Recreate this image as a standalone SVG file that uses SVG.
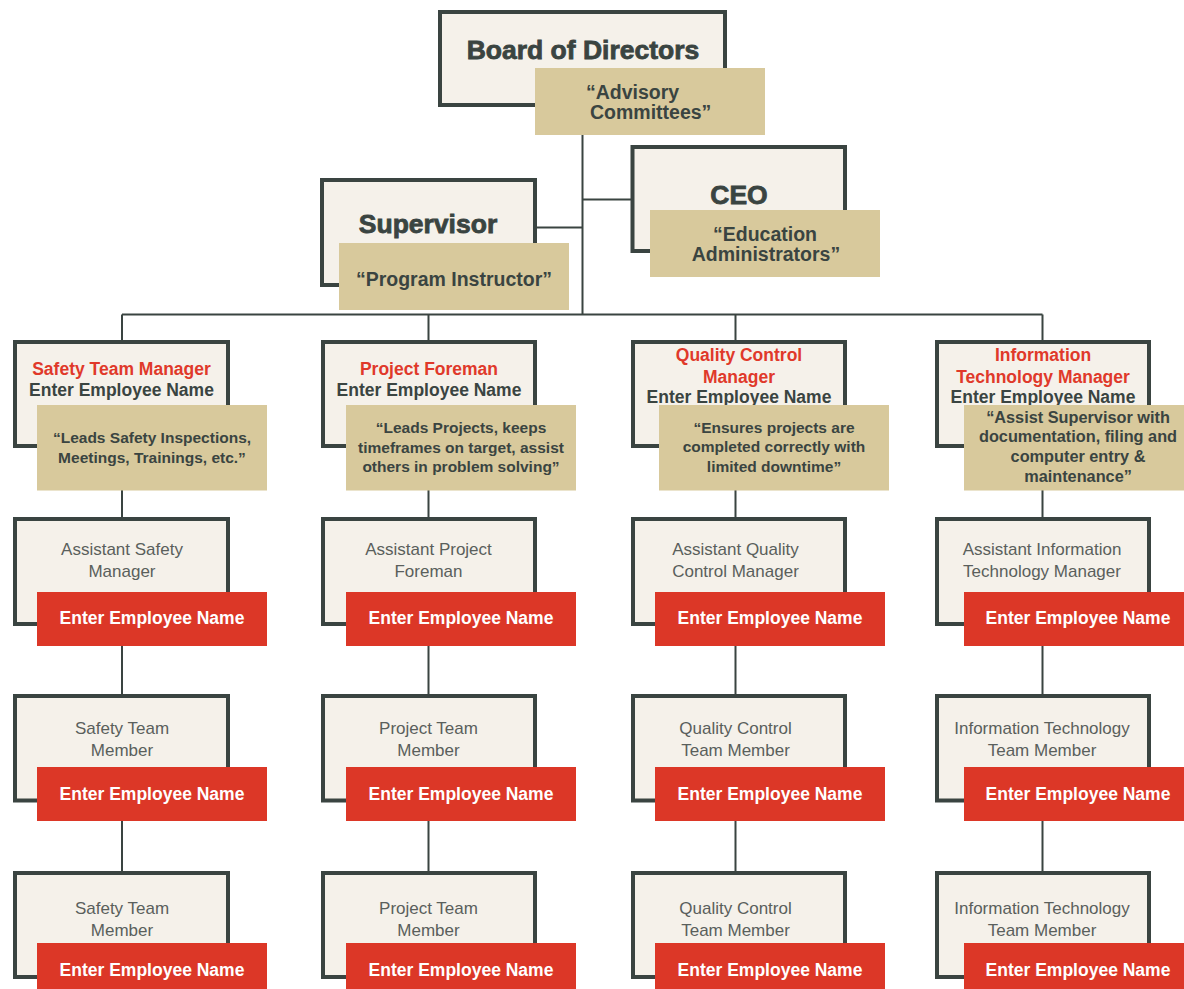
<svg xmlns="http://www.w3.org/2000/svg" width="1184" height="989" viewBox="0 0 1184 989">
<style>
.box{fill:#f5f1ea;stroke:#3a4441;stroke-width:4}
.tan{fill:#d8c99c}
.red{fill:#dc3727}
.ln{stroke:#3a4441;stroke-width:2;fill:none}
text{font-family:"Liberation Sans",Arial,Helvetica,sans-serif;text-anchor:middle}
.h{font-size:26.5px;font-weight:bold;fill:#3a4441;stroke:#3a4441;stroke-width:0.8}
.q{font-size:19.5px;font-weight:bold;fill:#3a4441}
.mt{font-size:17.5px;font-weight:bold;fill:#e0392a}
.mn{font-size:17.5px;font-weight:bold;fill:#3a4441}
.d{font-size:15.5px;font-weight:bold;fill:#3a4441}
.d2{font-size:16.3px;font-weight:bold;fill:#3a4441}
.lt{font-size:17px;fill:#5a5f5c}
.en{font-size:17.5px;font-weight:bold;fill:#ffffff}
</style>
<rect width="1184" height="989" fill="#ffffff"/>
<g id="connectors">
<path class="ln" d="M582.5 134 V314.5 M582.5 199.5 H632 M537 227.5 H582.5 M122 314.5 H1042.5"/>
<path class="ln" d="M122 314.5 V875 M428.5 314.5 V875 M735.5 314.5 V875 M1042.5 314.5 V875"/>
</g>
<g id="board">
<rect class="box" x="440" y="12" width="285" height="93"/>
<text class="h" x="583" y="59">Board of Directors</text>
<rect class="tan" x="535" y="68" width="230" height="67"/>
<text class="q" x="586" y="99" style="text-anchor:start">“Advisory</text>
<text class="q" x="590" y="119" style="text-anchor:start">Committees”</text>
</g>
<g id="ceo">
<rect class="box" x="632.5" y="147" width="212.5" height="104"/>
<text class="h" x="739" y="204">CEO</text>
<rect class="tan" x="650" y="210" width="230" height="67"/>
<text class="q" x="765" y="240.5">“Education</text>
<text class="q" x="766" y="260.5">Administrators”</text>
</g>
<g id="supervisor">
<rect class="box" x="322" y="180" width="213" height="105"/>
<text class="h" x="428" y="232.5">Supervisor</text>
<rect class="tan" x="339" y="243" width="230" height="67"/>
<text class="q" x="454" y="285.5">“Program Instructor”</text>
</g>
<!-- Column 1 -->
<g id="safety-manager">
<rect class="box" x="15" y="342" width="213" height="104"/>
<text class="mt" x="121.5" y="375">Safety Team Manager</text>
<text class="mn" x="121.5" y="395.5">Enter Employee Name</text>
<rect class="tan" x="37" y="405" width="230" height="85.5"/>
<text class="d" x="152" y="443">“Leads Safety Inspections,</text>
<text class="d" x="152" y="463">Meetings, Trainings, etc.”</text>
</g>
<g id="assistant-safety">
<rect class="box" x="15" y="519" width="213" height="105"/>
<text class="lt" x="122" y="555">Assistant Safety</text>
<text class="lt" x="122" y="577">Manager</text>
<rect class="red" x="37" y="592" width="230" height="54"/>
<text class="en" x="152" y="623.5">Enter Employee Name</text>
</g>
<g id="safety-member-1">
<rect class="box" x="15" y="696" width="213" height="104.5"/>
<text class="lt" x="122" y="734">Safety Team</text>
<text class="lt" x="122" y="756">Member</text>
<rect class="red" x="37" y="767" width="230" height="54"/>
<text class="en" x="152" y="800">Enter Employee Name</text>
</g>
<g id="safety-member-2">
<rect class="box" x="15" y="873" width="213" height="104"/>
<text class="lt" x="122" y="914">Safety Team</text>
<text class="lt" x="122" y="936">Member</text>
<rect class="red" x="37" y="943" width="230" height="50"/>
<text class="en" x="152" y="976">Enter Employee Name</text>
</g>
<!-- Column 2 -->
<g id="project-foreman">
<rect class="box" x="323" y="342" width="212" height="104"/>
<text class="mt" x="429" y="375">Project Foreman</text>
<text class="mn" x="429" y="395.5">Enter Employee Name</text>
<rect class="tan" x="346" y="405" width="230" height="85.5"/>
<text class="d" x="461" y="433">“Leads Projects, keeps</text>
<text class="d" x="461" y="452.5">timeframes on target, assist</text>
<text class="d" x="461" y="472">others in problem solving”</text>
</g>
<g id="assistant-project">
<rect class="box" x="323" y="519" width="212" height="105"/>
<text class="lt" x="428.5" y="555">Assistant Project</text>
<text class="lt" x="428.5" y="577">Foreman</text>
<rect class="red" x="346" y="592" width="230" height="54"/>
<text class="en" x="461" y="623.5">Enter Employee Name</text>
</g>
<g id="project-member-1">
<rect class="box" x="323" y="696" width="212" height="104.5"/>
<text class="lt" x="428.5" y="734">Project Team</text>
<text class="lt" x="428.5" y="756">Member</text>
<rect class="red" x="346" y="767" width="230" height="54"/>
<text class="en" x="461" y="800">Enter Employee Name</text>
</g>
<g id="project-member-2">
<rect class="box" x="323" y="873" width="212" height="104"/>
<text class="lt" x="428.5" y="914">Project Team</text>
<text class="lt" x="428.5" y="936">Member</text>
<rect class="red" x="346" y="943" width="230" height="50"/>
<text class="en" x="461" y="976">Enter Employee Name</text>
</g>
<!-- Column 3 -->
<g id="quality-manager">
<rect class="box" x="633" y="342" width="212" height="104"/>
<text class="mt" x="739" y="361">Quality Control</text>
<text class="mt" x="739" y="383">Manager</text>
<text class="mn" x="739" y="402.5">Enter Employee Name</text>
<rect class="tan" x="659" y="405" width="230" height="85.5"/>
<text class="d" x="774" y="432.5">“Ensures projects are</text>
<text class="d" x="774" y="452">completed correctly with</text>
<text class="d" x="774" y="471.5">limited downtime”</text>
</g>
<g id="assistant-quality">
<rect class="box" x="633" y="519" width="212" height="105"/>
<text class="lt" x="735.5" y="555">Assistant Quality</text>
<text class="lt" x="735.5" y="577">Control Manager</text>
<rect class="red" x="655" y="592" width="230" height="54"/>
<text class="en" x="770" y="623.5">Enter Employee Name</text>
</g>
<g id="quality-member-1">
<rect class="box" x="633" y="696" width="212" height="104.5"/>
<text class="lt" x="735.5" y="734">Quality Control</text>
<text class="lt" x="735.5" y="756">Team Member</text>
<rect class="red" x="655" y="767" width="230" height="54"/>
<text class="en" x="770" y="800">Enter Employee Name</text>
</g>
<g id="quality-member-2">
<rect class="box" x="633" y="873" width="212" height="104"/>
<text class="lt" x="735.5" y="914">Quality Control</text>
<text class="lt" x="735.5" y="936">Team Member</text>
<rect class="red" x="655" y="943" width="230" height="50"/>
<text class="en" x="770" y="976">Enter Employee Name</text>
</g>
<!-- Column 4 -->
<g id="it-manager">
<rect class="box" x="937" y="342" width="212" height="104"/>
<text class="mt" x="1043" y="361">Information</text>
<text class="mt" x="1043" y="383">Technology Manager</text>
<text class="mn" x="1043" y="402.5">Enter Employee Name</text>
<rect class="tan" x="964" y="405" width="230" height="85.5"/>
<text class="d2" x="1078" y="422.5">“Assist Supervisor with</text>
<text class="d2" x="1078" y="442">documentation, filing and</text>
<text class="d2" x="1078" y="461.5">computer entry &amp;</text>
<text class="d2" x="1078" y="481.5">maintenance”</text>
</g>
<g id="assistant-it">
<rect class="box" x="937" y="519" width="212" height="105"/>
<text class="lt" x="1042" y="555">Assistant Information</text>
<text class="lt" x="1042" y="577">Technology Manager</text>
<rect class="red" x="964" y="592" width="230" height="54"/>
<text class="en" x="1078" y="623.5">Enter Employee Name</text>
</g>
<g id="it-member-1">
<rect class="box" x="937" y="696" width="212" height="104.5"/>
<text class="lt" x="1042" y="734">Information Technology</text>
<text class="lt" x="1042" y="756">Team Member</text>
<rect class="red" x="964" y="767" width="230" height="54"/>
<text class="en" x="1078" y="800">Enter Employee Name</text>
</g>
<g id="it-member-2">
<rect class="box" x="937" y="873" width="212" height="104"/>
<text class="lt" x="1042" y="914">Information Technology</text>
<text class="lt" x="1042" y="936">Team Member</text>
<rect class="red" x="964" y="943" width="230" height="50"/>
<text class="en" x="1078" y="976">Enter Employee Name</text>
</g>
</svg>
